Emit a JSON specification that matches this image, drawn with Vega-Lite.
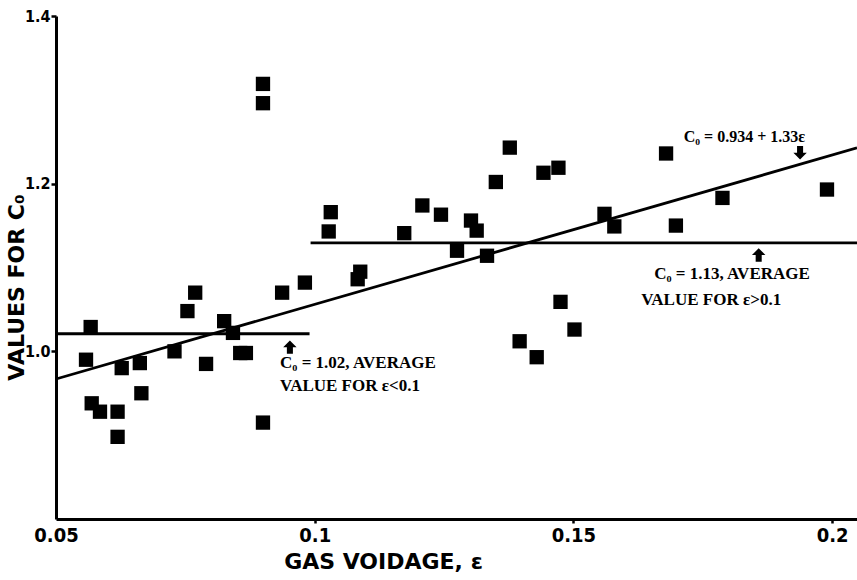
{
  "$schema": "https://vega.github.io/schema/vega-lite/v6.json",
  "width": 801,
  "height": 503,
  "autosize": {"type": "none"},
  "padding": {"left": 56, "top": 16, "right": 0, "bottom": 61},
  "background": "white",
  "config": {
    "view": {"stroke": null},
    "axis": {
      "grid": false,
      "domainColor": "black",
      "domainWidth": 3,
      "tickColor": "black",
      "tickWidth": 2.5,
      "labelColor": "black",
      "titleColor": "black",
      "labelFont": "DejaVu Sans Condensed",
      "titleFont": "DejaVu Sans",
      "labelFontWeight": "bold",
      "titleFontWeight": "bold",
      "labelFlush": false,
      "labelOverlap": false
    }
  },
  "datasets": {
    "points": [
      {"eps": 0.0567, "C": 1.029}, {"eps": 0.0558, "C": 0.990}, {"eps": 0.0627, "C": 0.980},
      {"eps": 0.0662, "C": 0.986}, {"eps": 0.0569, "C": 0.938}, {"eps": 0.0585, "C": 0.928},
      {"eps": 0.0619, "C": 0.928}, {"eps": 0.0619, "C": 0.898}, {"eps": 0.0665, "C": 0.950},
      {"eps": 0.0729, "C": 1.000}, {"eps": 0.0754, "C": 1.048}, {"eps": 0.0769, "C": 1.070},
      {"eps": 0.0790, "C": 0.985}, {"eps": 0.0825, "C": 1.036}, {"eps": 0.0842, "C": 1.022},
      {"eps": 0.0856, "C": 0.998}, {"eps": 0.0867, "C": 0.998}, {"eps": 0.0900, "C": 0.915},
      {"eps": 0.0900, "C": 1.319}, {"eps": 0.0900, "C": 1.296}, {"eps": 0.0937, "C": 1.070},
      {"eps": 0.0981, "C": 1.082}, {"eps": 0.1083, "C": 1.086}, {"eps": 0.1088, "C": 1.095},
      {"eps": 0.1031, "C": 1.166}, {"eps": 0.1027, "C": 1.143}, {"eps": 0.1173, "C": 1.141},
      {"eps": 0.1208, "C": 1.174}, {"eps": 0.1244, "C": 1.163}, {"eps": 0.1275, "C": 1.120},
      {"eps": 0.1302, "C": 1.156}, {"eps": 0.1313, "C": 1.144}, {"eps": 0.1333, "C": 1.114},
      {"eps": 0.1350, "C": 1.202}, {"eps": 0.1377, "C": 1.243}, {"eps": 0.1442, "C": 1.213},
      {"eps": 0.1471, "C": 1.219}, {"eps": 0.1475, "C": 1.059}, {"eps": 0.1396, "C": 1.012},
      {"eps": 0.1429, "C": 0.993}, {"eps": 0.1502, "C": 1.026}, {"eps": 0.1560, "C": 1.164},
      {"eps": 0.1579, "C": 1.149}, {"eps": 0.1679, "C": 1.236}, {"eps": 0.1698, "C": 1.150},
      {"eps": 0.1788, "C": 1.183}, {"eps": 0.1990, "C": 1.193}
    ],
    "lines": [
      {"id": "avg_low", "eps": 0.05, "C": 1.021},
      {"id": "avg_low", "eps": 0.0990, "C": 1.021},
      {"id": "avg_high", "eps": 0.0992, "C": 1.1294},
      {"id": "avg_high", "eps": 0.2048, "C": 1.1294},
      {"id": "fit", "eps": 0.05, "C": 0.967},
      {"id": "fit", "eps": 0.2048, "C": 1.2427}
    ],
    "arrowsUp": [
      {"eps": 0.0952, "C": 1.005},
      {"eps": 0.1858, "C": 1.115}
    ],
    "arrowsDown": [
      {"eps": 0.1938, "C": 1.2368}
    ],
    "notes": [
      {"eps": 0.0933, "C": 0.986, "label": "C₀ = 1.02, AVERAGE"},
      {"eps": 0.0933, "C": 0.9587, "label": "VALUE FOR ε<0.1"},
      {"eps": 0.1656, "C": 1.0924, "label": "C₀ = 1.13, AVERAGE"},
      {"eps": 0.1631, "C": 1.0613, "label": "VALUE FOR ε>0.1"}
    ],
    "formula": [
      {"eps": 0.1713, "C": 1.2558, "label": "C₀ = 0.934 + 1.33ε"}
    ]
  },
  "encoding": {
    "x": {
      "field": "eps",
      "type": "quantitative",
      "scale": {"domain": [0.05, 0.2048], "nice": false, "zero": false},
      "axis": {
        "title": "GAS VOIDAGE, ε",
        "values": [0.05, 0.1, 0.15, 0.2],
        "format": ".2~f",
        "labelFontSize": 20,
        "labelPadding": 2,
        "tickOpacity": {"condition": {"test": "datum.value < 0.06", "value": 0}, "value": 1},
        "tickSize": 4,
        "titleFontSize": 22,
        "titleX": 327,
        "titleY": 42,
        "titleAlign": "center",
        "titleBaseline": "middle"
      }
    },
    "y": {
      "field": "C",
      "type": "quantitative",
      "scale": {"domain": [0.8, 1.4], "nice": false, "zero": false},
      "axis": {
        "title": "VALUES FOR C₀",
        "values": [1.0, 1.2, 1.4],
        "format": ".1f",
        "labelFontSize": 16,
        "labelPadding": 1,
        "tickSize": 5,
        "titleFontSize": 22,
        "titleAngle": 270,
        "titleX": -40,
        "titleY": 271,
        "titleAlign": "center",
        "titleBaseline": "middle"
      }
    }
  },
  "layer": [
    {
      "data": {"name": "lines"},
      "mark": {"type": "line", "color": "black", "strokeWidth": 2.8},
      "encoding": {"detail": {"field": "id"}}
    },
    {
      "data": {"name": "points"},
      "mark": {"type": "point", "shape": "square", "filled": true, "size": 205, "color": "black", "opacity": 1}
    },
    {
      "data": {"name": "arrowsUp"},
      "mark": {"type": "point", "shape": "M-0.45,1L0.45,1L0.45,0L1,0L0,-1L-1,0L-0.45,0Z", "filled": true, "size": 180, "color": "black", "opacity": 1}
    },
    {
      "data": {"name": "arrowsDown"},
      "mark": {"type": "point", "shape": "M-0.45,-1L0.45,-1L0.45,0L1,0L0,1L-1,0L-0.45,0Z", "filled": true, "size": 180, "color": "black", "opacity": 1}
    },
    {
      "data": {"name": "notes"},
      "mark": {"type": "text", "align": "left", "baseline": "middle", "font": "Liberation Serif", "fontWeight": "bold", "fontSize": 17, "color": "black"},
      "encoding": {"text": {"field": "label"}}
    },
    {
      "data": {"name": "formula"},
      "mark": {"type": "text", "align": "left", "baseline": "middle", "font": "Liberation Serif", "fontWeight": "bold", "fontSize": 16, "color": "black"},
      "encoding": {"text": {"field": "label"}}
    }
  ]
}
